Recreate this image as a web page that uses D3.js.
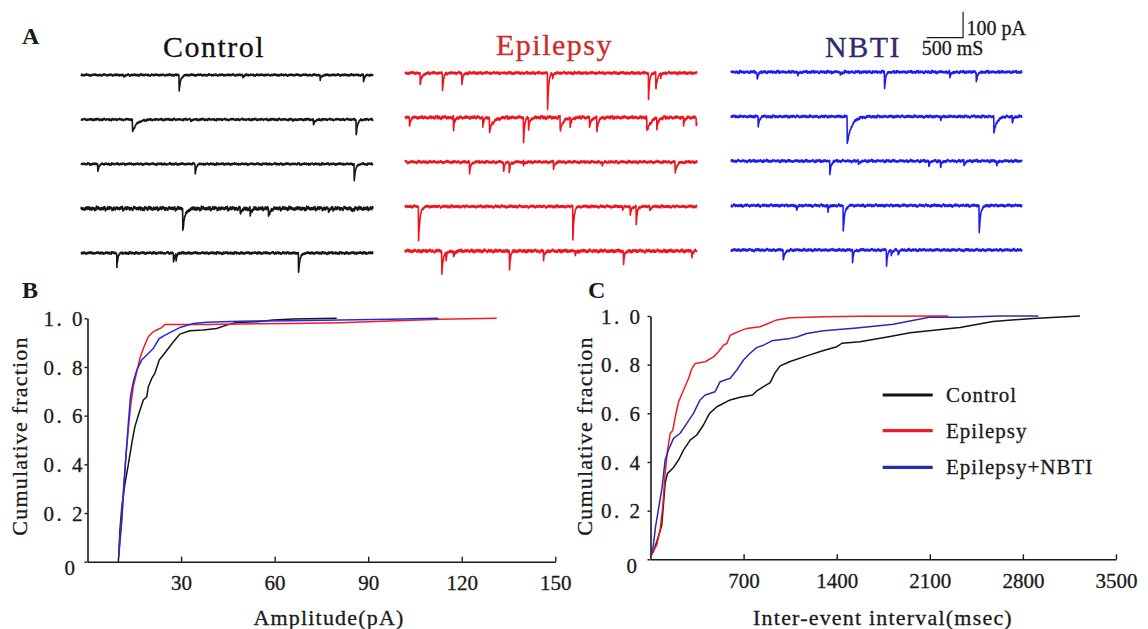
<!DOCTYPE html>
<html><head><meta charset="utf-8">
<script src="https://cdn.jsdelivr.net/npm/d3@7"></script>
<style>
body{margin:0;background:#fff}
svg{display:block}
text{font-family:"Liberation Serif","Times New Roman",Times,serif}
</style>
</head><body>
<svg id="c" width="1148" height="629"></svg>
<script>
// ---------------- DATA ----------------
const groupNames = ["Control", "Epilepsy", "NBTI"];
const seriesNames = ["Control", "Epilepsy", "Epilepsy+NBTI"];
const ampTicks = [30, 60, 90, 120, 150];
const iviTicks = [700, 1400, 2100, 2800, 3500];
const fracTicks = [0, 0.2, 0.4, 0.6, 0.8, 1.0];
const fracTickLabels = ["0", "0. 2", "0. 4", "0. 6", "0. 8", "1. 0"];
const scaleBarTime = 500;   // ms
const scaleBarAmp = 100;    // pA

// sEPSC events per sweep: [time ms, amplitude pA, decay ms]
const controlEvents = [
  [[580,8,15],[1342,62,20],[2215,8,15],[3274,19,15],[3867,27,15]],
  [[703,46,60],[1500,8,15],[2900,8,15],[3182,23,20],[3767,58,20]],
  [[228,27,15],[1562,38,15],[3740,62,20]],
  [[1392,85,30],[2178,23,20],[2315,27,20],[2566,35,20],[3388,15,15],[3700,12,15]],
  [[489,50,15],[1265,38,15],[1300,23,15],[2977,77,20]]
];
const epilepsyEvents = [
  [[205,46,25],[511,69,15],[776,46,15],[1950,142,15],[2020,15,15],[3333,100,15],[3434,65,20],[3500,15,15]],
  [[59,31,15],[662,50,15],[1064,35,15],[1155,54,50],[1621,92,15],[1690,42,20],[2123,50,40],[2260,35,20],[2525,42,20],[2626,54,20],[3311,54,50],[3448,38,20],[3813,35,15],[3987,35,15]],
  [[881,50,15],[1347,38,15],[1425,42,15],[1621,15,15],[2032,27,15],[2700,12,15],[3699,42,25]],
  [[183,131,20],[2297,131,15],[2980,12,15],[3083,35,15],[3165,69,15],[3350,15,15]],
  [[502,88,20],[560,31,15],[662,27,15],[1429,69,15],[1895,35,15],[2329,19,15],[2991,50,15],[3927,19,15]]
];
const nbtiEvents = [
  [[357,31,15],[916,12,15],[1500,12,15],[2108,65,15],[3006,23,15],[3369,35,20]],
  [[371,42,15],[1595,104,60],[2880,12,15],[3611,65,40],[3864,27,15]],
  [[1356,58,15],[1750,15,15],[2717,23,15],[2878,27,15],[3200,19,15],[3650,19,15]],
  [[900,19,15],[1330,23,15],[1540,100,20],[3409,104,20]],
  [[715,38,25],[1668,46,15],[2135,58,15],[2200,23,15],[2295,19,15]]
];
// baseline noise level per sweep (pA)
const controlNoise = [3.5, 3.5, 3.5, 6.5, 4];
const epilepsyNoise = [4.5, 5.5, 4.5, 4.5, 5.5];
const nbtiNoise = [4.5, 4.5, 4.5, 4.5, 4.5];
// fixed baseline noise pattern (hand typed)
const NOISE = [0.2,-0.5,0.8,-0.1,-0.9,0.4,0.6,-0.3,0.1,-0.7,0.9,-0.2,-0.4,0.5,-0.8,0.3,0.7,-0.6,0.0,0.4,-0.3,0.8,-0.9,0.2,0.5,-0.1,-0.6,0.9,-0.4,0.3,0.1,-0.8,0.6,-0.2,0.7,-0.5,0.0,0.4,-0.7,0.2,0.8,-0.3,-0.5,0.6,-0.1,0.3,-0.9,0.5];

// cumulative amplitude distributions [pA, fraction]
const ampControl = [[9.9,0.0],[10.4,0.13],[11.0,0.226],[12.0,0.32],[13.1,0.40],[14.2,0.486],[15.2,0.555],[16.3,0.602],[17.9,0.664],[19.0,0.678],[19.5,0.719],[20.6,0.753],[21.6,0.774],[23.0,0.829],[24.3,0.849],[25.9,0.876],[27.5,0.903],[29.6,0.935],[32.8,0.949],[37.1,0.952],[41.4,0.958],[44.6,0.972],[47.8,0.983],[54.2,0.986],[59.6,0.993],[66.0,0.997],[79.9,1.0]];
const ampEpilepsy = [[10.0,0.02],[10.2,0.062],[11.0,0.185],[11.5,0.295],[12.3,0.43],[13.1,0.546],[13.8,0.638],[14.7,0.72],[15.8,0.78],[16.8,0.835],[17.9,0.876],[19.5,0.924],[21.1,0.945],[22.7,0.955],[23.8,0.962],[24.9,0.975],[38.2,0.975],[64.9,0.979],[81,0.982],[97,0.989],[113,0.996],[131.2,1.0]];
const ampNBTI = [[10.0,0.02],[10.2,0.05],[11.0,0.17],[11.7,0.31],[12.3,0.43],[13.1,0.57],[13.8,0.68],[14.7,0.74],[15.8,0.787],[17.4,0.829],[19.0,0.849],[21.1,0.876],[23.0,0.917],[24.9,0.931],[27.0,0.945],[29.6,0.962],[34.0,0.979],[38.2,0.984],[48.9,0.988],[64.9,0.99],[97,0.996],[112.5,1.0]];

// cumulative inter-event interval distributions [ms, fraction]
const iviControl = [[0,0.011],[26,0.038],[47,0.072],[67,0.107],[85,0.141],[98,0.23],[110,0.312],[128,0.353],[168,0.374],[211,0.408],[248,0.449],[298,0.49],[348,0.511],[398,0.552],[444,0.6],[499,0.627],[599,0.655],[674,0.666],[767,0.675],[799,0.692],[850,0.71],[900,0.726],[937,0.767],[975,0.795],[1050,0.813],[1175,0.836],[1301,0.858],[1401,0.874],[1439,0.888],[1575,0.894],[1802,0.916],[1951,0.931],[2327,0.953],[2575,0.977],[2876,0.99],[3229,1.0]];
const iviEpilepsy = [[0,0.011],[26,0.04],[47,0.058],[72,0.12],[92,0.216],[110,0.353],[128,0.449],[148,0.517],[168,0.531],[186,0.585],[211,0.647],[248,0.695],[286,0.743],[311,0.784],[336,0.805],[411,0.812],[474,0.832],[511,0.853],[549,0.88],[574,0.887],[599,0.921],[674,0.939],[724,0.949],[824,0.956],[875,0.967],[950,0.984],[1050,0.993],[1301,0.997],[1575,0.999],[2239,1.0]];
const iviNBTI = [[0,0.011],[20,0.052],[38,0.134],[63,0.216],[88,0.299],[110,0.408],[135,0.449],[173,0.497],[223,0.518],[273,0.559],[323,0.6],[373,0.655],[411,0.675],[486,0.689],[524,0.73],[599,0.744],[649,0.778],[699,0.819],[749,0.847],[800,0.871],[850,0.88],[912,0.898],[1050,0.908],[1100,0.914],[1175,0.928],[1301,0.939],[1551,0.951],[1826,0.966],[2096,0.995],[2327,0.995],[2628,1.0],[2916,1.0]];

// ---------------- DRAWING ----------------
const svg = d3.select("#c");
const FONT = '"Liberation Serif","Times New Roman",Times,serif';
const INK = "#1a1a1a";

// Panel A
const RISE = 3;
const STEP = 5;
function traceSamples(events, noiseAmp, off) {
  const times = d3.range(0, 4001, STEP);
  events.forEach(e => { [0,1,2,3,4,6,9].forEach(d => times.push(e[0] + d)); });
  times.sort((a, b) => a - b);
  const N = NOISE.length;
  return times.filter(t => t <= 4000).map(t => {
    const k = Math.round(t / STEP);
    let v = noiseAmp * (NOISE[(k + off) % N] + 0.6 * NOISE[(Math.floor(k / 6) + off * 3) % N]);
    events.forEach(([t0, a, tau]) => {
      const dt = t - t0;
      if (dt >= 0) v -= a * (dt < RISE ? dt / RISE : Math.exp(-(dt - RISE) / tau));
    });
    return [t, v];
  });
}
const ampScale = d3.scaleLinear().domain([-100, 0]).range([26, 0]);
const groups = [
  {events: controlEvents, noise: controlNoise, color: "#151515", xr: [81, 373], rr: [75, 253]},
  {events: epilepsyEvents, noise: epilepsyNoise, color: "#ec161c", xr: [405, 697], rr: [73, 251]},
  {events: nbtiEvents, noise: nbtiNoise, color: "#1d1dee", xr: [731, 1022], rr: [72, 250]}
];
let nbtiX;
groups.forEach((g, gi) => {
  const xs = d3.scaleLinear().domain([0, 4000]).range(g.xr);
  if (gi === 2) nbtiX = xs;
  const rs = d3.scaleLinear().domain([0, 4]).range(g.rr);
  g.events.forEach((ev, ri) => {
    const pts = traceSamples(ev, g.noise[ri], gi * 17 + ri * 11);
    const line = d3.line().x(d => xs(d[0])).y(d => rs(ri) + ampScale(d[1]));
    svg.append("path").attr("d", line(pts)).attr("fill", "none")
      .attr("stroke", g.color).attr("stroke-width", 1.6).attr("stroke-linejoin", "round");
  });
});

// text weight helper (mimic the heavier print)
function heavy(sel, color, w) {
  return sel.attr("stroke", color).attr("stroke-width", w || 0.3).attr("paint-order", "stroke");
}

// titles
const titleColors = ["#111111", "#cf2b2b", "#2d2b6b"];
const titleX = [163, 496, 825];
const titleY = [57, 55, 57];
groupNames.forEach((n, i) => {
  heavy(svg.append("text").attr("x", titleX[i]).attr("y", titleY[i]).text(n)
    .attr("font-size", 30).attr("fill", titleColors[i]).style("letter-spacing", "1.5px"), titleColors[i], 0.3);
});

// scale bar
{
  const x0 = 926.7, yb = 37.7;
  const x1 = x0 + (nbtiX(scaleBarTime) - nbtiX(0));
  const y0 = yb - (ampScale(-scaleBarAmp) - ampScale(0));
  svg.append("path").attr("d", `M${x0},${yb}H${x1}V${y0}`).attr("fill", "none")
    .attr("stroke", INK).attr("stroke-width", 1.2);
  heavy(svg.append("text").attr("x", x1 + 3.4).attr("y", 35).attr("font-size", 20).attr("fill", INK).text(scaleBarAmp + " pA"), INK);
  heavy(svg.append("text").attr("x", 921.7).attr("y", 55).attr("font-size", 20).attr("fill", INK).text(scaleBarTime + " mS"), INK);
}

// panel letters
[["A", 22, 44], ["B", 22, 298], ["C", 588, 298]].forEach(([t, x, y]) => {
  svg.append("text").attr("x", x).attr("y", y).text(t).attr("font-size", 24)
    .attr("font-weight", "bold").attr("fill", INK);
});

// CDF panels
function cdfPanel(opt) {
  const {x, y, xt, series, colors, yLabelOff, zeroOff, xTitle, xTitleX, yTitleX} = opt;
  const gx = svg.append("g").attr("transform", `translate(0,${y(0)})`)
    .call(d3.axisBottom(x).tickValues(xt).tickSize(-5).tickSizeOuter(0).tickFormat(d3.format("d")));
  gx.attr("font-family", FONT).attr("font-size", 21);
  heavy(gx.selectAll("text").attr("y", 28.5).attr("dy", null).attr("fill", INK), INK);
  gx.selectAll("line").attr("stroke", INK).attr("stroke-width", 1.4);
  gx.select(".domain").attr("stroke", INK).attr("stroke-width", 1.6);

  const gy = svg.append("g").attr("transform", `translate(${x(0)},0)`)
    .call(d3.axisLeft(y).tickValues(fracTicks).tickSize(3).tickSizeOuter(0)
      .tickFormat((d, i) => fracTickLabels[i]));
  gy.attr("font-family", FONT).attr("font-size", 21);
  heavy(gy.selectAll("text").attr("fill", INK).attr("x", (d) => d === 0 ? zeroOff : yLabelOff)
    .attr("dy", d => d === 0 ? "0.62em" : "0.34em").style("letter-spacing", d => d === 0 ? "0px" : "2.5px"), INK);
  gy.selectAll("line").attr("stroke", INK).attr("stroke-width", 1.4);
  gy.select(".domain").attr("stroke", INK).attr("stroke-width", 1.6);

  const line = d3.line().x(d => x(d[0])).y(d => y(d[1]));
  series.forEach((s, i) => {
    svg.append("path").attr("d", line(s)).attr("fill", "none").attr("stroke", colors[i])
      .attr("stroke-width", 1.5).attr("stroke-linejoin", "round");
  });

  heavy(svg.append("text").attr("x", xTitleX).attr("y", 625).attr("text-anchor", "middle")
    .attr("font-size", 22).attr("fill", INK).style("letter-spacing", "1.2px").text(xTitle), INK);
  heavy(svg.append("text").attr("transform", `translate(${yTitleX},436) rotate(-90)`)
    .attr("text-anchor", "middle").attr("font-size", 22).attr("fill", INK)
    .style("letter-spacing", "1.2px").text("Cumulative fraction"), INK);
}

const xB = d3.scaleLinear().domain([0, 150]).range([87.5, 555.3]);
const yB = d3.scaleLinear().domain([0, 1]).range([561.7, 318.3]);
cdfPanel({x: xB, y: yB, xt: ampTicks, series: [ampControl, ampEpilepsy, ampNBTI],
  colors: ["#141414", "#ee1c24", "#1f2ae8"], yLabelOff: -2.5, zeroOff: -12.5,
  xTitle: "Amplitude(pA)", xTitleX: 329, yTitleX: 27});

const xC = d3.scaleLinear().domain([0, 3500]).range([650.5, 1116]);
const yC = d3.scaleLinear().domain([0, 1]).range([559.3, 316]);
const cColors = ["#141414", "#ee1c24", "#2a2ab0"];
cdfPanel({x: xC, y: yC, xt: iviTicks, series: [iviControl, iviEpilepsy, iviNBTI],
  colors: cColors, yLabelOff: -8, zeroOff: -13.5,
  xTitle: "Inter-event interval(msec)", xTitleX: 883, yTitleX: 591.5});

// legend
const legY = [395, 430.7, 467.3];
seriesNames.forEach((n, i) => {
  svg.append("line").attr("x1", 882.7).attr("x2", 932.7).attr("y1", legY[i]).attr("y2", legY[i])
    .attr("stroke", cColors[i]).attr("stroke-width", 3.2);
  heavy(svg.append("text").attr("x", 946).attr("y", legY[i]).attr("dy", "0.33em")
    .attr("font-size", 21).attr("fill", INK).style("letter-spacing", "1px").text(n), INK);
});
</script>
</body></html>
